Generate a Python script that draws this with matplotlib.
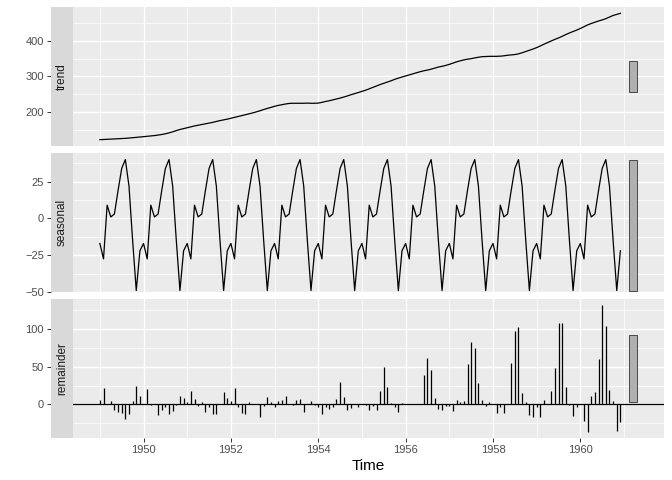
import numpy as np
import matplotlib
matplotlib.use('Agg')
import matplotlib.pyplot as plt

plt.rcParams['font.family'] = ['Liberation Sans', 'DejaVu Sans']

# STL components (monthly, 1949-1960)
years = list(range(1949, 1961))

seasonal_fig = [-17, -27.5, 9, 1, 3, 19, 34, 40, 22, -15, -49, -22]

trend = [
    123, 123.5, 124, 124.5, 125, 125.5, 126, 126.7, 127.5, 128.5, 129.5, 130.5,
    131.5, 132.5, 133.5, 134.5, 136, 137.5, 139.5, 142, 145, 148.5, 151.5, 154,
    156.5, 159, 161.5, 163.5, 165.5, 167.5, 169.5, 171.5, 174, 176.5, 178.5, 180.5,
    183, 185.5, 188, 190.5, 193, 195.5, 198, 201, 204, 207.5, 210.5, 213.5,
    216.5, 219, 221, 223, 224.5, 225, 225, 225, 225, 225.5, 225, 225,
    225.5, 227.5, 230, 232, 234.5, 237, 239.5, 242.5, 245.5, 249, 252, 255,
    258.5, 261.5, 265.5, 269.5, 273.5, 277.5, 281, 284.5, 288, 292, 295.5, 298.5,
    301.5, 304.5, 307.5, 310.5, 313.5, 316, 318, 320.5, 323.5, 326.5, 328.5, 331,
    334, 337.5, 341, 344, 346.5, 348.5, 350, 352, 354, 355.5, 356, 356.5,
    356.5, 356.5, 357, 358, 359.5, 360.5, 361.5, 363.5, 366.5, 370, 373.5, 377,
    381, 385.5, 390.5, 395, 399.5, 404, 408, 412.5, 417.5, 422, 426, 430,
    434.5, 439.5, 444.5, 448.5, 452, 455.5, 458.5, 462, 466.5, 471, 474, 477,
]

remainder = [
    6, 22, 0, 4, -7, -10, -11, -19, -13, 5, 24, 11,
    0, 21, -1, 0, -14, -8, -3, -12, -9, -1, 11, 8,
    3.5, 18, 7, -2, 2.7, -10, -4, -13, -12, 0, 16, 8,
    4, 22, -4, -11, -13, 3, 0, 1, -16, -2, 10, 3,
    -4, 4.4, 5.7, 11, 1, -1, 6, 7, -10, 0, 4, -1,
    -4, -13, -4, -6, -3, 7, 29, 10, -8, -5, 0, -3,
    0, -1, -7.5, -2, -7, 18, 50, 22.6, 2, -4, -10, 2,
    0, 0, 0, 1, 1, 39, 62, 45, 9, -6, -8, -2,
    -2, -9, 6, 3, 5, 53.5, 82, 75, 28, 6, -2, 3,
    0, -11, -3, -11, 0, 55, 97, 102, 15.5, 3, -14, -17,
    -4, -16, 6, 0, 18, 48, 107, 107, 23, -1, -15, -3,
    0, -22, -36, 11, 17, 60, 131, 104, 19.5, 4.4, -35, -23,
]

time = np.array([y + m / 12 for y in years for m in range(12)])
seasonal = np.tile(seasonal_fig, len(years))

series = {'trend': np.array(trend), 'seasonal': seasonal, 'remainder': np.array(remainder)}
yticks = {'trend': [200, 300, 400], 'seasonal': [-50, -25, 0, 25], 'remainder': [0, 50, 100]}
yminor = {'trend': [150, 250, 350, 450], 'seasonal': [-37.5, -12.5, 12.5, 37.5],
          'remainder': [-25, 25, 75, 125]}

# range bars: same length in each panel, centred on the panel's range
bar_len = min(v.max() - v.min() for v in series.values())
bar_x0, bar_x1 = 1961.11, 1961.30

W, H = 672, 480
fig = plt.figure(figsize=(W / 100, H / 100), dpi=100)


def px_axes(l, t, r, b):
    return fig.add_axes([l / W, 1 - b / H, (r - l) / W, (b - t) / H])


panels = [(7, 146), (153, 292), (299, 438)]
axes = []
for (top, bot), name in zip(panels, series):
    vals = series[name]
    ax = px_axes(73, top, 664, bot)
    ax.set_facecolor('#EBEBEB')
    for s in ax.spines.values():
        s.set_visible(False)
    ax.spines['left'].set_position(('outward', 22 * 72 / 100))

    if name == 'remainder':
        ax.axhline(0, color='black', lw=0.9, zorder=2)
        ax.vlines(time, 0, vals, color='black', lw=0.9, zorder=3)
    else:
        ax.plot(time, vals, color='black', lw=0.9, zorder=3)

    mid = (vals.max() + vals.min()) / 2
    ax.bar((bar_x0 + bar_x1) / 2, bar_len, bottom=mid - bar_len / 2,
           width=bar_x1 - bar_x0, color='#B0B0B0', edgecolor='#333333', lw=0.6, zorder=3)

    ax.margins(x=0.05, y=0.05)
    ax.set_yticks(yticks[name])
    ax.set_yticks(yminor[name], minor=True)
    ax.set_xticks(range(1950, 1961, 2))
    ax.set_xticks(range(1949, 1962, 2), minor=True)
    ax.grid(which='major', color='white', lw=1.0)
    ax.grid(which='minor', color='white', lw=0.5)
    ax.set_axisbelow(True)
    ax.tick_params(which='minor', length=0)
    ax.tick_params(which='major', length=3, width=0.7, color='#333333',
                   labelcolor='#4D4D4D', labelsize=8, pad=2)
    if name != 'remainder':
        ax.tick_params(bottom=False, labelbottom=False)

    strip = px_axes(51, top, 73, bot)
    strip.set_facecolor('#D9D9D9')
    strip.set_xticks([])
    strip.set_yticks([])
    for s in strip.spines.values():
        s.set_visible(False)
    strip.text(0.5, 0.5, name, rotation=90, ha='center', va='center',
               fontsize=8.5, color='#1A1A1A', transform=strip.transAxes)
    axes.append(ax)

axes[-1].set_xlabel('Time', fontsize=11, labelpad=3)

fig.savefig('out.png', dpi=100)
